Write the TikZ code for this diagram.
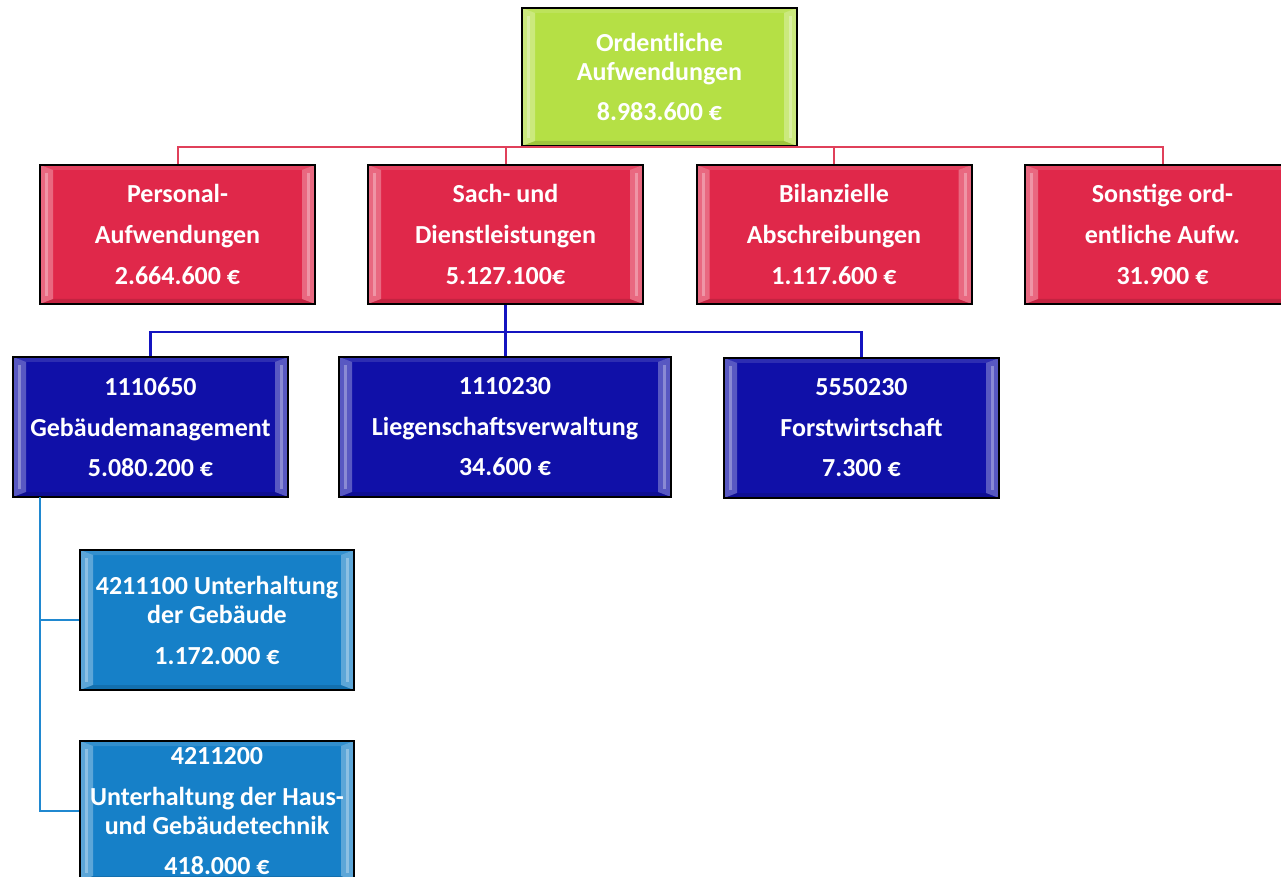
\documentclass[tikz,border=0pt]{standalone}
\usepackage{fontspec}
\setmainfont{Carlito}
\definecolor{limegr}{HTML}{B5E045}
\definecolor{aufwred}{HTML}{E0284A}
\definecolor{darkbl}{HTML}{1010A8}
\definecolor{lightbl}{HTML}{1680C8}
\definecolor{redln}{HTML}{E0405A}
\definecolor{blueln}{HTML}{1414C0}
\definecolor{lblueln}{HTML}{2088D0}
\newcommand{\orgfont}{\bfseries\fontsize{13}{14.5}\selectfont}
\tikzset{
  orgbox/.style={draw=black, line width=1pt, fill=#1, text=white, font=\orgfont,
    align=center, inner sep=0pt, minimum width=137.5pt, minimum height=69.5pt,
    path picture={
      \coordinate (bbsw) at (path picture bounding box.south west);
      \coordinate (bbne) at (path picture bounding box.north east);
      \coordinate (bbnw) at (path picture bounding box.north west);
      \coordinate (bbse) at (path picture bounding box.south east);
      % seitliche Kanten heller
      \fill[white, opacity=.3] (bbsw) -- (bbnw) -- ([shift={(6.5pt,-2.5pt)}]bbnw) -- ([shift={(6.5pt,2.5pt)}]bbsw) -- cycle;
      \fill[white, opacity=.3] (bbse) -- (bbne) -- ([shift={(-6.5pt,-2.5pt)}]bbne) -- ([shift={(-6.5pt,2.5pt)}]bbse) -- cycle;
      \fill[white, opacity=.3] ([shift={(2.5pt,-4pt)}]bbnw) rectangle ([shift={(4pt,4pt)}]bbsw);
      \fill[white, opacity=.3] ([shift={(-2.5pt,-4pt)}]bbne) rectangle ([shift={(-4pt,4pt)}]bbse);
      \fill[white, opacity=.12] (bbnw) -- (bbne) -- ([shift={(-6.5pt,-2.5pt)}]bbne) -- ([shift={(6.5pt,-2.5pt)}]bbnw) -- cycle;
      \fill[black, opacity=.12] (bbsw) -- (bbse) -- ([shift={(-6.5pt,2.5pt)}]bbse) -- ([shift={(6.5pt,2.5pt)}]bbsw) -- cycle;
    }},
  redline/.style={draw=redln, line width=1pt},
  blueline/.style={draw=blueln, line width=1.2pt},
  lblueline/.style={draw=lblueln, line width=1pt}
}
\begin{document}
\begin{tikzpicture}[x=0.5pt,y=-0.5pt]
\useasboundingbox (0,0) rectangle (1281,877);
\clip (0,0) rectangle (1281,877);
% Ebene 1
\node[orgbox=limegr, minimum height=69pt] (top) at (659.5,77) {Ordentliche\\Aufwendungen\\[5.5pt]8.983.600 €};
% Ebene 2
\node[orgbox=aufwred] (pers) at (177.5,234.5) {Personal-\\[6pt]Aufwendungen\\[6pt]2.664.600 €};
\node[orgbox=aufwred] (sach) at (505.5,234.5) {Sach- und\\[6pt]Dienstleistungen\\[6pt]5.127.100€};
\node[orgbox=aufwred] (bil) at (834,234.5) {Bilanzielle\\[6pt]Abschreibungen\\[6pt]1.117.600 €};
\node[orgbox=aufwred] (sonst) at (1162.5,234.5) {Sonstige ord-\\[6pt]entliche Aufw.\\[6pt]31.900 €};
% Ebene 3
\node[orgbox=darkbl, minimum height=70pt] (geb) at (150.5,427) {1110650\\[6pt]Gebäudemanagement\\[5.5pt]5.080.200 €};
\node[orgbox=darkbl, minimum height=70pt, minimum width=166pt] (lieg) at (505,427) {1110230\\[6pt]Liegenschaftsverwaltung\\[5.5pt]34.600 €};
\node[orgbox=darkbl, minimum height=70pt] (forst) at (861.5,428) {5550230\\[6pt]Forstwirtschaft\\[5.5pt]7.300 €};
% Ebene 4
\node[orgbox=lightbl, minimum height=70pt, minimum width=137pt] (unt1) at (217,620) {4211100 Unterhaltung\\der Gebäude\\[6pt]1.172.000 €};
\node[orgbox=lightbl, minimum height=70pt, minimum width=137pt] (unt2) at (217,811) {4211200\\[6pt]Unterhaltung der Haus-\\und Gebäudetechnik\\[5.5pt]418.000 €};
% Verbindungen
\draw[redline] (pers.north) |- (top.south) -| (sonst.north);
\draw[redline] (sach.north) -- (sach.north |- top.south);
\draw[redline] (bil.north) -- (bil.north |- top.south);
\coordinate (bus) at (505,332);
\draw[blueline] (geb.north) |- (bus) -| (forst.north);
\draw[blueline] (sach.south) -- (sach.south |- lieg.north);
\coordinate (trunk) at (40,497);
\draw[lblueline] (trunk) |- (unt2.west);
\draw[lblueline] (trunk |- unt1.west) -- (unt1.west);
\end{tikzpicture}
\end{document}
